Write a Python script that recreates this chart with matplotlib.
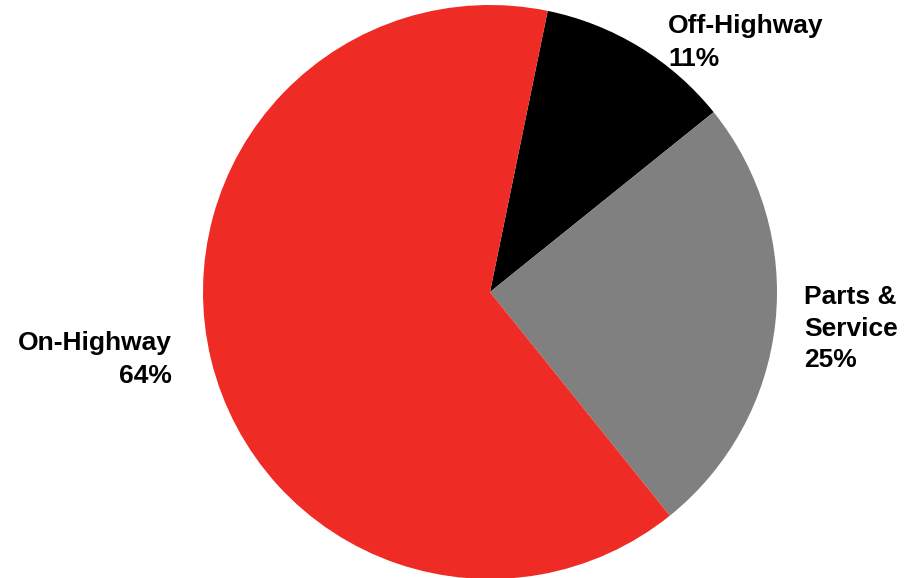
import matplotlib.pyplot as plt

# segment data
segments = ["Off-Highway", "Parts &\nService", "On-Highway"]
shares = [11, 25, 64]
colors = ["#000000", "#808080", "#EE2C25"]

W, H = 911, 578
fig = plt.figure(figsize=(W / 100, H / 100), dpi=100)
ax = fig.add_axes([0, 0, 1, 1])

ax.pie(shares, colors=colors, startangle=78.4, counterclock=False,
       center=(490, H - 292), radius=287, frame=True,
       wedgeprops={"linewidth": 0})
ax.set_xlim(0, W)
ax.set_ylim(0, H)
ax.set_aspect("auto")
ax.axis("off")

font = {"family": "Liberation Sans", "weight": "bold", "size": 19}

ax.text(668, H - 14, "%s\n%d%%" % (segments[0], shares[0]), ha="left", va="top",
        linespacing=1.45, **font)
ax.text(804, H - 285, "%s\n%d%%" % (segments[1], shares[1]), ha="left", va="top",
        linespacing=1.4, **font)
ax.text(172, H - 331, "%s\n%d%%" % (segments[2], shares[2]), ha="right", va="top",
        multialignment="right", linespacing=1.45, **font)

fig.savefig("out.png", dpi=100)
